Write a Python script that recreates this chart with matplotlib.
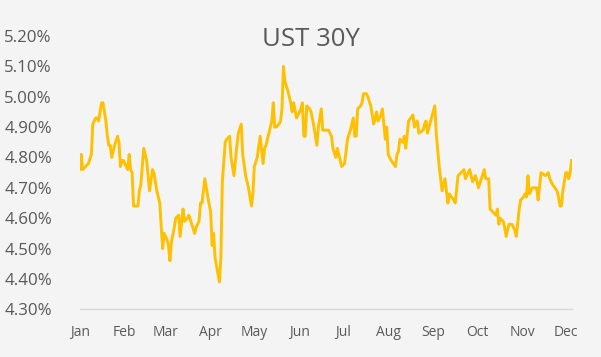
import matplotlib
matplotlib.use("Agg")
import matplotlib.pyplot as plt
import matplotlib.ticker as mticker
import pandas as pd

title = "UST 30Y"
month_labels = ["Jan", "Feb", "Mar", "Apr", "May", "Jun",
                "Jul", "Aug", "Sep", "Oct", "Nov", "Dec"]

dates = [
    "01-01", "01-02", "01-03", "01-05", "01-07", "01-09", "01-10", "01-12", "01-13", "01-14",
    "01-16", "01-17", "01-19", "01-20", "01-21", "01-22", "01-23", "01-25", "01-27", "01-28",
    "01-29", "01-30", "01-31", "02-02", "02-03", "02-04", "02-05", "02-06", "02-07", "02-09",
    "02-10", "02-11", "02-12", "02-14", "02-16", "02-18", "02-20", "02-21", "02-23", "02-24",
    "02-25", "02-27", "02-28", "03-02", "03-03", "03-04", "03-05", "03-07", "03-08", "03-10",
    "03-11", "03-13", "03-14", "03-16", "03-17", "03-19", "03-21", "03-22", "03-24", "03-25",
    "03-26", "03-28", "03-30", "04-01", "04-02", "04-03", "04-04", "04-07", "04-08", "04-09",
    "04-11", "04-12", "04-14", "04-15", "04-17", "04-19", "04-20", "04-22", "04-23", "04-25",
    "04-27", "04-29", "04-30", "05-01", "05-03", "05-05", "05-07", "05-08", "05-09", "05-12",
    "05-13", "05-14", "05-15", "05-16", "05-18", "05-19", "05-20", "05-21", "05-22", "05-24",
    "05-26", "05-27", "05-28", "05-30", "05-31", "06-02", "06-03", "06-04", "06-05", "06-06",
    "06-08", "06-09", "06-11", "06-13", "06-14", "06-16", "06-17", "06-19", "06-21", "06-23",
    "06-24", "06-26", "06-27", "06-29", "06-30", "07-02", "07-04", "07-06", "07-08", "07-09",
    "07-10", "07-11", "07-13", "07-14", "07-15", "07-17", "07-18", "07-20", "07-22", "07-24",
    "07-25", "07-27", "07-28", "07-30", "07-31", "08-01", "08-03", "08-06", "08-07", "08-08",
    "08-09", "08-11", "08-12", "08-13", "08-15", "08-18", "08-19", "08-21", "08-22", "08-25",
    "08-26", "08-27", "08-28", "08-29", "09-02", "09-03", "09-05", "09-07", "09-09", "09-11",
    "09-12", "09-15", "09-16", "09-18", "09-20", "09-22", "09-23", "09-26", "09-28", "09-30",
    "10-02", "10-04", "10-06", "10-07", "10-09", "10-10", "10-12", "10-14", "10-15", "10-16",
    "10-17", "10-19", "10-20", "10-21", "10-23", "10-25", "10-27", "10-28", "10-30", "10-31",
    "11-02", "11-03", "11-04", "11-05", "11-06", "11-08", "11-11", "11-12", "11-14", "11-17",
    "11-19", "11-20", "11-22", "11-25", "11-26", "11-27", "11-28", "11-29", "12-01", "12-02",
    "12-03", "12-04", "12-05",
]

yields = [
    4.76, 4.81, 4.76, 4.77, 4.78, 4.81, 4.91, 4.93, 4.93, 4.92,
    4.98, 4.98, 4.92, 4.87, 4.84, 4.84, 4.80, 4.84, 4.87, 4.85,
    4.77, 4.79, 4.79, 4.77, 4.76, 4.81, 4.76, 4.75, 4.64, 4.64,
    4.64, 4.69, 4.71, 4.83, 4.79, 4.69, 4.76, 4.75, 4.69, 4.67,
    4.65, 4.50, 4.55, 4.53, 4.51, 4.46, 4.52, 4.57, 4.60, 4.61,
    4.54, 4.63, 4.59, 4.60, 4.61, 4.58, 4.55, 4.57, 4.59, 4.65,
    4.65, 4.73, 4.67, 4.62, 4.51, 4.55, 4.47, 4.39, 4.47, 4.72,
    4.85, 4.86, 4.87, 4.80, 4.74, 4.84, 4.88, 4.91, 4.81, 4.74,
    4.70, 4.64, 4.68, 4.77, 4.80, 4.87, 4.78, 4.83, 4.84, 4.90,
    4.92, 4.98, 4.90, 4.90, 4.91, 4.92, 4.96, 5.10, 5.05, 5.02,
    4.98, 4.95, 4.98, 4.93, 4.94, 4.96, 4.98, 4.87, 4.87, 4.97,
    4.96, 4.95, 4.90, 4.84, 4.90, 4.96, 4.89, 4.89, 4.89, 4.87,
    4.83, 4.80, 4.83, 4.79, 4.77, 4.78, 4.86, 4.89, 4.93, 4.87,
    4.87, 4.96, 4.97, 4.98, 5.01, 5.01, 5.00, 4.97, 4.91, 4.95,
    4.92, 4.94, 4.96, 4.86, 4.90, 4.81, 4.79, 4.77, 4.81, 4.82,
    4.86, 4.85, 4.87, 4.83, 4.92, 4.94, 4.90, 4.92, 4.88, 4.89,
    4.91, 4.92, 4.88, 4.90, 4.97, 4.88, 4.77, 4.69, 4.73, 4.65,
    4.68, 4.66, 4.65, 4.74, 4.75, 4.76, 4.73, 4.76, 4.72, 4.74,
    4.70, 4.73, 4.76, 4.73, 4.73, 4.63, 4.62, 4.61, 4.63, 4.58,
    4.60, 4.59, 4.57, 4.54, 4.58, 4.58, 4.56, 4.54, 4.63, 4.66,
    4.67, 4.68, 4.67, 4.74, 4.68, 4.70, 4.70, 4.66, 4.75, 4.74,
    4.75, 4.73, 4.71, 4.69, 4.67, 4.64, 4.64, 4.69, 4.75, 4.75,
    4.73, 4.75, 4.79,
]

year = "2025"
x = pd.to_datetime([f"{year}-{d}" for d in dates])

plt.rcParams["font.family"] = ["Open Sans", "DejaVu Sans"]
text_color = "#595959"
bg = "#F4F4F4"

fig = plt.figure(figsize=(6.01, 3.57), dpi=100, facecolor=bg)
ax = fig.add_axes([79.7 / 601, 1 - 309.3 / 357, (571.6 - 79.7) / 601, (309.3 - 36) / 357])
ax.set_facecolor(bg)

ax.plot(x, yields, color="#FFC000", linewidth=2.1, solid_joinstyle="round")

ax.set_ylim(4.30, 5.20)
ax.set_yticks([4.30 + 0.1 * i for i in range(10)])
ax.yaxis.set_major_formatter(mticker.FuncFormatter(lambda v, p: f"{v:.2f}%"))
ax.set_xlim(pd.Timestamp(f"{year}-01-01"), pd.Timestamp(f"{year}-12-05"))
month_ticks = pd.date_range(f"{year}-01-01", periods=12, freq="MS")
ax.set_xticks(month_ticks)
ax.set_xticklabels(month_labels)

for s in ["top", "right", "left"]:
    ax.spines[s].set_visible(False)
ax.spines["bottom"].set_color("#D9D9D9")
ax.spines["bottom"].set_linewidth(1.0)

ax.tick_params(axis="y", length=0, pad=20, labelsize=12.2, labelcolor=text_color)
ax.tick_params(axis="x", length=0, pad=11, labelsize=10, labelcolor=text_color)

fig.text(310.5 / 601, 1 - 39 / 357, title, ha="center", va="center",
         fontsize=18.5, color=text_color)

fig.savefig("out.png", dpi=100, facecolor=bg)
